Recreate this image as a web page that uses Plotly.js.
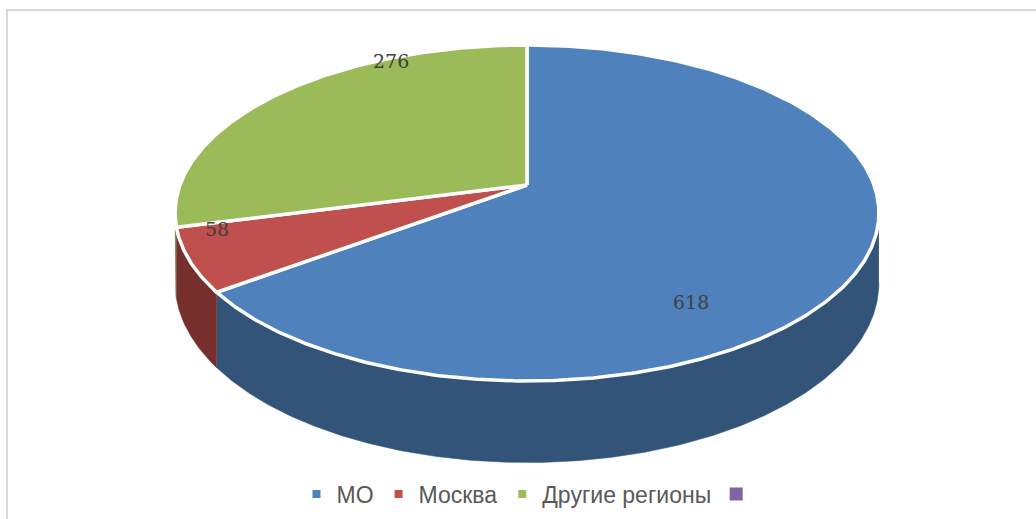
<!DOCTYPE html>
<html>
<head>
<meta charset="utf-8">
<script src="https://cdn.plot.ly/plotly-3.0.1.min.js"></script>
<style>html,body{margin:0;padding:0;background:#fff;}#chart{width:1036px;height:519px;}</style>
</head>
<body>
<div id="chart"></div>
<script>
// ---- data ----
const categories = ["МО", "Москва", "Другие регионы"];
const values = [618, 58, 276];
const extraLegendLabel = ""; // 4th (empty) legend entry

// ---- styles ----
const topColors = ["#4F81BD", "#C0504D", "#9BBB59"];
const sideColors = ["#335479", "#772F2E", "#5E7A2E"];
const extraColor = "#8064A2";
const labelPos = [[691, 302], [217, 229], [391, 61]];

// ---- 3D pie geometry (pixel space) ----
const W = 1036, H = 519;
const cx = 527, cy = 185;   // projected centre
const ra = 347, rb = 163.3; // radii
const persp = 0.1667;       // perspective factor
const depth = 68;           // side height

function proj(thetaDeg, r, drop) {
  const t = thetaDeg * Math.PI / 180;
  const u = r * Math.sin(t), v = -r * Math.cos(t);
  const w = 1 - persp * v;
  return [cx + ra * u / w, cy + (rb * v + drop) / w];
}

const total = values.reduce((s, v) => s + v, 0);
const angles = [];
let acc = 0;
values.forEach(v => { const a0 = acc / total * 360; acc += v; angles.push([a0, acc / total * 360]); });

const visStart = Math.acos(-persp) * 180 / Math.PI;
const visEnd = 360 - visStart;

const traces = [];
// sides
angles.forEach(([a0, a1], i) => {
  const s = Math.max(a0, visStart), e = Math.min(a1, visEnd);
  if (e <= s) return;
  const xs = [], ys = [];
  const n = Math.max(2, Math.ceil((e - s) / 0.5));
  for (let k = 0; k <= n; k++) { const p = proj(s + (e - s) * k / n, 1, 0); xs.push(p[0]); ys.push(p[1]); }
  for (let k = n; k >= 0; k--) { const p = proj(s + (e - s) * k / n, 1, depth); xs.push(p[0]); ys.push(p[1]); }
  traces.push({x: xs, y: ys, type: "scatter", mode: "lines", fill: "toself",
    fillcolor: sideColors[i], line: {color: sideColors[i], width: 0.5}, showlegend: false, hoverinfo: "skip"});
});
// top faces
angles.forEach(([a0, a1], i) => {
  const c = proj(0, 0, 0);
  const xs = [c[0]], ys = [c[1]];
  const n = Math.max(2, Math.ceil((a1 - a0) / 0.5));
  for (let k = 0; k <= n; k++) { const p = proj(a0 + (a1 - a0) * k / n, 1, 0); xs.push(p[0]); ys.push(p[1]); }
  xs.push(c[0]); ys.push(c[1]);
  traces.push({x: xs, y: ys, type: "scatter", mode: "lines", fill: "toself",
    fillcolor: topColors[i], line: {color: "#FFFFFF", width: 3.5}, showlegend: false, hoverinfo: "skip"});
});
// legend entries
categories.forEach((name, i) => {
  traces.push({x: [null], y: [null], type: "scatter", mode: "markers", name: name,
    marker: {symbol: "square", size: 8, color: topColors[i]}, showlegend: true});
});
traces.push({x: [null], y: [null], type: "scatter", mode: "markers", name: extraLegendLabel,
  marker: {symbol: "square", size: 13, color: extraColor}, showlegend: true});

const annotations = values.map((v, i) => ({
  x: labelPos[i][0], y: labelPos[i][1], xref: "x", yref: "y", text: String(v), showarrow: false,
  font: {family: "DejaVu Serif", size: 19, color: "#404040"}, xanchor: "center", yanchor: "middle"
}));

const layout = {
  width: W, height: H, margin: {l: 0, r: 0, t: 0, b: 0},
  paper_bgcolor: "#FFFFFF", plot_bgcolor: "rgba(0,0,0,0)",
  xaxis: {range: [0, W], visible: false, fixedrange: true},
  yaxis: {range: [H, 0], visible: false, fixedrange: true},
  showlegend: true,
  legend: {orientation: "h", x: 0.5 + 11 / W, xanchor: "center", y: 1 - 494 / H, yanchor: "middle",
    font: {family: "Liberation Sans, Arial, sans-serif", size: 23, color: "#595959"},
    bgcolor: "rgba(0,0,0,0)", itemwidth: 30, traceorder: "normal"},
  annotations: annotations,
  shapes: [{type: "rect", xref: "paper", yref: "paper", x0: 7 / W, x1: 1.05, y0: -0.05, y1: 1 - 10 / H,
    line: {color: "#D9D9D9", width: 2}, fillcolor: "rgba(0,0,0,0)", layer: "below"}],
  hovermode: false
};

Plotly.newPlot("chart", traces, layout, {staticPlot: true});
</script>
</body>
</html>
